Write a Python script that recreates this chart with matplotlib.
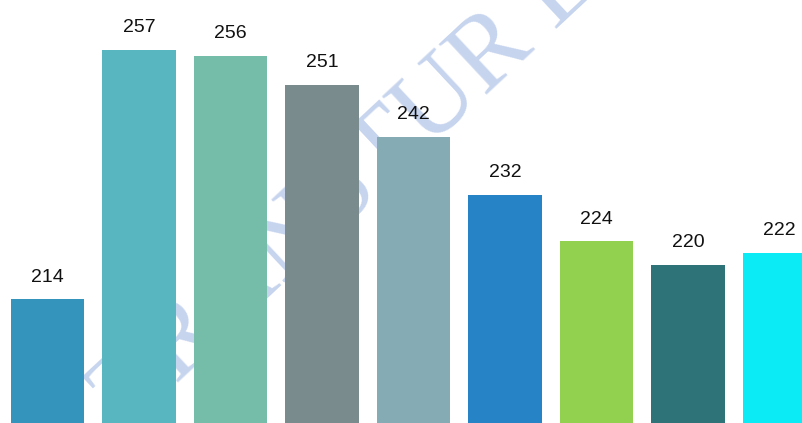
import matplotlib
matplotlib.use("Agg")
import matplotlib.pyplot as plt
from matplotlib import font_manager

categories = ["A", "B", "C", "D", "E", "F", "G", "H", "I"]
values = [214, 257, 256, 251, 242, 232, 224, 220, 222]
colors = ["#3594bb", "#58b6c0", "#75bda8", "#7a8b8d", "#85abb5",
          "#2683c6", "#92d050", "#2e7378", "#0aebf5"]
watermark = "TRANSTUR LTD"

names = {f.name for f in font_manager.fontManager.ttflist}
label_font = ["Liberation Sans Narrow"] if "Liberation Sans Narrow" in names else ["Liberation Sans", "DejaVu Sans"]

fig = plt.figure(figsize=(8.02, 4.23), dpi=100)
ax = fig.add_axes([0, 0, 1, 1])
ax.set_xlim(-0.519, 8.246)
ax.set_ylim(192.7, 265.6)
ax.axis("off")

x = list(range(len(categories)))
ax.bar(x, values, width=0.8, color=colors, zorder=3)
for xi, v in zip(x, values):
    ax.annotate(str(v), (xi, v), xytext=(0, 12.6), textcoords="offset points",
                ha="center", va="baseline", fontsize=14, family=label_font,
                color="#111111", zorder=4)

ax.text(128 / 802, 1 - 428 / 423, watermark, transform=fig.transFigure,
        rotation=43, rotation_mode="anchor", clip_on=False,
        ha="left", va="baseline", fontsize=76, family=["Liberation Serif", "DejaVu Serif"],
        color="#c6d4ee", zorder=1)

fig.savefig("out.png", dpi=100)
